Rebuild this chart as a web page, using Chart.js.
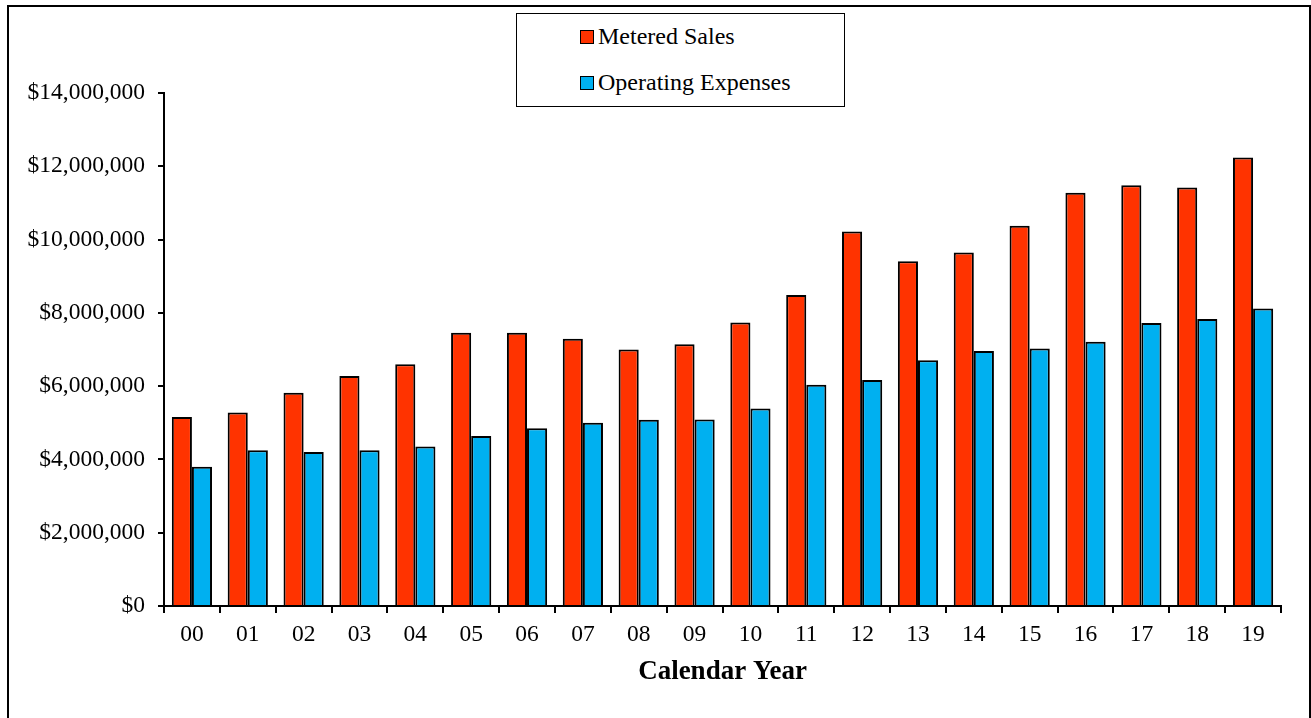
<!DOCTYPE html>
<html>
<head>
<meta charset="utf-8">
<script src="https://cdn.jsdelivr.net/npm/chart.js@4.4.1/dist/chart.umd.min.js"></script>
<style>
  html, body { margin: 0; padding: 0; background: #fff; }
  #wrap { position: relative; width: 1311px; height: 718px; overflow: hidden; }
  #frame {
    position: absolute; left: 7px; top: 5px; width: 1300px; height: 730px;
    border-left: 2px solid #000; border-top: 2px solid #000; border-right: 2px solid #000;
  }
  #legend {
    position: absolute; left: 516px; top: 13px; width: 327px; height: 92px;
    border: 1px solid #000; background: #fff;
    font-family: "Liberation Serif", "Times New Roman", serif; font-size: 24px; color: #000;
  }
  #legend .item { position: absolute; left: 63px; display: flex; align-items: center; white-space: nowrap; }
  #legend .box { width: 12px; height: 12px; border: 1.5px solid #000; margin-right: 4px; }
  canvas { position: absolute; left: 0; top: 0; }
</style>
</head>
<body>
<div id="wrap">
  <div id="frame"></div>
  <canvas id="chart" width="1311" height="718"></canvas>
  <div id="legend"></div>
</div>
<script>
// data
const years = ["00", "01", "02", "03", "04", "05", "06", "07", "08", "09",
  "10", "11", "12", "13", "14", "15", "16", "17", "18", "19"];
const meteredSales = [5160000, 5280000, 5820000, 6280000, 6600000, 7460000, 7460000, 7290000, 7000000, 7140000,
  7740000, 8490000, 10220000, 9410000, 9650000, 10380000, 11280000, 11480000, 11420000, 12240000];
const operatingExpenses = [3800000, 4250000, 4200000, 4250000, 4350000, 4640000, 4850000, 5000000, 5080000, 5090000,
  5390000, 6040000, 6170000, 6710000, 6960000, 7030000, 7210000, 7720000, 7830000, 8120000];
const yTicks = [0, 2000000, 4000000, 6000000, 8000000, 10000000, 12000000, 14000000];

const serif = "'Liberation Serif', 'Times New Roman', serif";

function money(v) {
  return "$" + Math.round(v).toString().replace(/\B(?=(\d{3})+(?!\d))/g, ",");
}

const chart = new Chart(document.getElementById("chart"), {
  type: "bar",
  data: {
    labels: years,
    datasets: [
      {
        label: "Metered Sales",
        data: meteredSales,
        backgroundColor: "#FF3300",
        borderColor: "#000",
        borderWidth: 2,
      },
      {
        label: "Operating Expenses",
        data: operatingExpenses,
        backgroundColor: "#00B0F0",
        borderColor: "#000",
        borderWidth: 2,
      },
    ],
  },
  options: {
    responsive: false,
    animation: false,
    layout: { padding: { left: 0, right: 30, top: 93, bottom: 22 } },
    plugins: { legend: { display: false }, tooltip: { enabled: false } },
    datasets: { bar: { categoryPercentage: 0.72, barPercentage: 1.0 } },
    scales: {
      x: {
        grid: { display: true, drawOnChartArea: false, color: "#000", tickLength: 7, lineWidth: 2 },
        border: { color: "#000", width: 2 },
        ticks: { color: "#000", font: { family: serif, size: 23.5 }, padding: 8, maxRotation: 0 },
        title: {
          display: true,
          text: "Calendar Year",
          color: "#000",
          font: { family: serif, size: 27, weight: "bold" },
          padding: { top: 4, bottom: 8 },
        },
        afterFit: (s) => { s.height = 90; },
      },
      y: {
        min: 0,
        max: 14000000,
        afterBuildTicks: (s) => { s.ticks = yTicks.map((v) => ({ value: v })); },
        grid: { display: true, drawOnChartArea: false, color: "#000", tickLength: 6, lineWidth: 2 },
        border: { color: "#000", width: 2 },
        ticks: { color: "#000", font: { family: serif, size: 23.5 }, padding: 13, callback: (v) => money(v) },
        afterFit: (s) => { s.width = 164; },
      },
    },
  },
});

// legend box, stacked like the original
const legend = document.getElementById("legend");
chart.data.datasets.forEach((ds, i) => {
  const item = document.createElement("div");
  item.className = "item";
  item.style.top = (i === 0 ? 9 : 55) + "px";
  const box = document.createElement("span");
  box.className = "box";
  box.style.background = ds.backgroundColor;
  const txt = document.createElement("span");
  txt.textContent = ds.label;
  item.appendChild(box);
  item.appendChild(txt);
  legend.appendChild(item);
});
</script>
</body>
</html>
